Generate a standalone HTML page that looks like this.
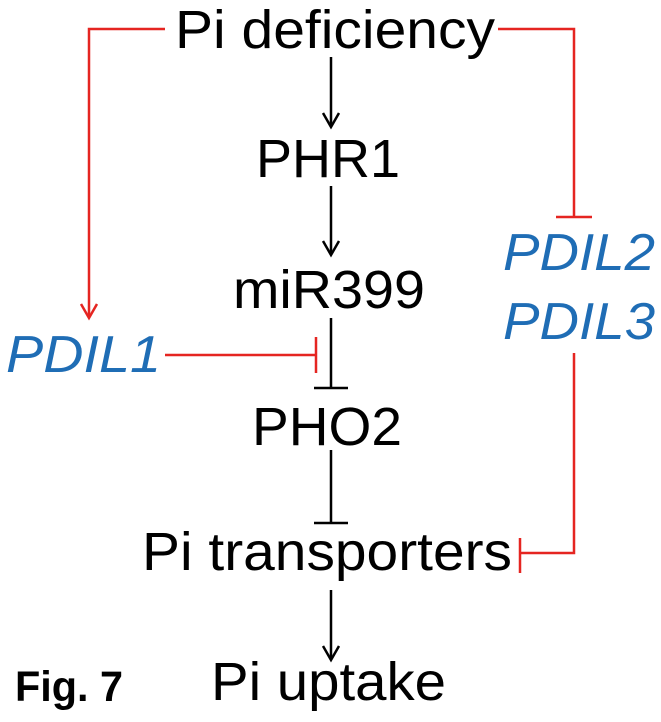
<!DOCTYPE html>
<html><head><meta charset="utf-8"><style>
html,body{margin:0;padding:0;background:#fff;width:661px;height:722px;overflow:hidden}
text{font-family:"Liberation Sans",Arial,sans-serif}
</style></head><body>
<svg width="661" height="722" viewBox="0 0 661 722" xmlns="http://www.w3.org/2000/svg">
<g fill="#000" font-size="54">
<text x="175" y="48" textLength="320" lengthAdjust="spacingAndGlyphs">Pi deficiency</text>
<text x="256" y="177" textLength="144" lengthAdjust="spacingAndGlyphs">PHR1</text>
<text x="233" y="308" textLength="192" lengthAdjust="spacingAndGlyphs">miR399</text>
<text x="252" y="445" textLength="150" lengthAdjust="spacingAndGlyphs">PHO2</text>
<text x="142" y="570" textLength="370" lengthAdjust="spacingAndGlyphs">Pi transporters</text>
<text x="211" y="700" textLength="235" lengthAdjust="spacingAndGlyphs">Pi uptake</text>
</g>
<text x="15" y="701" font-size="43" font-weight="bold" textLength="108" lengthAdjust="spacingAndGlyphs">Fig. 7</text>
<g fill="#1f6db5" font-size="52" font-style="italic">
<text x="6" y="372" textLength="155" lengthAdjust="spacingAndGlyphs">PDIL1</text>
<text x="503" y="270" textLength="152" lengthAdjust="spacingAndGlyphs">PDIL2</text>
<text x="503" y="339" textLength="152" lengthAdjust="spacingAndGlyphs">PDIL3</text>
</g>
<g stroke="#000" stroke-width="2.5" fill="none">
<line x1="331" y1="57" x2="331" y2="127"/><polyline points="323,113 331,127 339,113"/>
<line x1="331" y1="186" x2="331" y2="255"/><polyline points="323,241 331,255 339,241"/>
<line x1="331" y1="318" x2="331" y2="388"/><line x1="314" y1="388" x2="348" y2="388"/>
<line x1="331" y1="450" x2="331" y2="523"/><line x1="314" y1="523" x2="348" y2="523"/>
<line x1="331" y1="590" x2="331" y2="660"/><polyline points="323,646 331,660 339,646"/>
</g>
<g stroke="#e52521" stroke-width="2.5" fill="none">
<polyline points="165,29 89,29 89,318"/><polyline points="81,304 89,318 97,304"/>
<line x1="165" y1="355" x2="316" y2="355"/><line x1="316" y1="337" x2="316" y2="373"/>
<polyline points="498,29 574,29 574,217"/><line x1="556" y1="217" x2="592" y2="217"/>
<polyline points="574,353 574,553 520,553"/><line x1="520" y1="538" x2="520" y2="573"/>
</g>
</svg>
</body></html>
